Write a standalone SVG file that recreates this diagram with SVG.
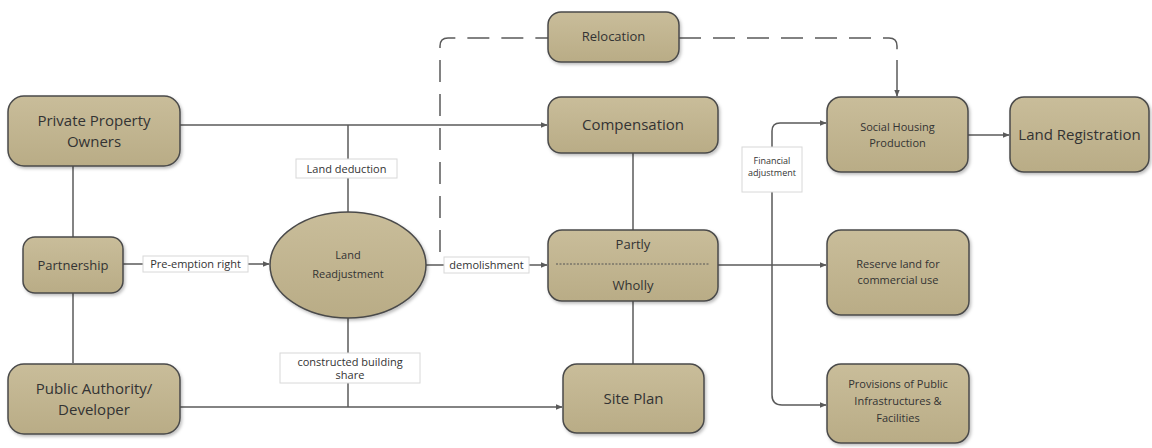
<svg xmlns="http://www.w3.org/2000/svg" width="1152" height="448" viewBox="0 0 1152 448">
  <defs>
    <linearGradient id="fillGrad" x1="0" y1="0" x2="0" y2="1">
      <stop offset="0" stop-color="#c9bd9a"/>
      <stop offset="1" stop-color="#b9ac86"/>
    </linearGradient>
    <marker id="arrow" viewBox="0 0 10 10" refX="9" refY="5" markerWidth="7" markerHeight="7" orient="auto" markerUnits="userSpaceOnUse">
      <path d="M0,1 L10,5 L0,9 Z" fill="#5a5a5a"/>
    </marker>
    <filter id="shadow" x="-10%" y="-10%" width="125%" height="130%">
      <feDropShadow dx="1.5" dy="2" stdDeviation="1.5" flood-color="#000" flood-opacity="0.25"/>
    </filter>
  </defs>
  <style>
    .node { fill: url(#fillGrad); stroke: #4a4a4a; stroke-width: 1.5; filter: url(#shadow); }
    .t { font-family: "Open Sans", "Liberation Sans", sans-serif; fill: #333; text-anchor: middle; }
    .big { font-size: 15px; }
    .mid { font-size: 13px; }
    .small { font-size: 11px; }
    .tiny { font-size: 9px; }
    .line { fill: none; stroke: #5a5a5a; stroke-width: 1.5; }
    .dash { fill: none; stroke: #5a5a5a; stroke-width: 1.5; stroke-dasharray: 22 12; }
    .lbl { fill: #fff; stroke: #d8d8d8; stroke-width: 1; }
  </style>
  <rect width="1152" height="448" fill="#fff"/>

  <!-- connectors -->
  <g id="connectors">
    <!-- owners / partnership / authority spine -->
    <path class="line" d="M73,166 V237"/>
    <path class="line" d="M73,293 V363"/>
    <!-- owners to compensation -->
    <path class="line" d="M180,125 H547" marker-end="url(#arrow)"/>
    <!-- land deduction -->
    <path class="line" d="M348,125 V212"/>
    <rect class="lbl" x="296" y="159" width="101" height="19"/>
    <text class="t small" x="346.5" y="173">Land deduction</text>
    <!-- pre-emption right -->
    <path class="line" d="M123,264 H269" marker-end="url(#arrow)"/>
    <rect class="lbl" x="143" y="256" width="105" height="16"/>
    <text class="t small" x="195.5" y="268">Pre-emption right</text>
    <!-- demolishment -->
    <path class="line" d="M426,265 H547" marker-end="url(#arrow)"/>
    <rect class="lbl" x="444" y="257" width="85" height="16"/>
    <text class="t small" x="486.5" y="269">demolishment</text>
    <!-- constructed building share -->
    <path class="line" d="M348,318 V407"/>
    <rect class="lbl" x="280" y="353" width="140" height="30"/>
    <text class="t small" x="350" y="366">constructed building</text>
    <text class="t small" x="350" y="379">share</text>
    <!-- authority to site plan -->
    <path class="line" d="M180,407 H562" marker-end="url(#arrow)"/>
    <!-- relocation dashed route -->
    <path class="dash" d="M440,252 V46 Q440,38 448,38 H548"/>
    <path class="dash" d="M679,38 H889 Q897,38 897,46 V60"/>
    <path class="line" d="M897,60 V96" marker-end="url(#arrow)"/>
    <!-- compensation / partly-wholly / site plan -->
    <path class="line" d="M633,153 V230"/>
    <path class="line" d="M633,301 V364"/>
    <!-- to reserve land -->
    <path class="line" d="M718,265 H826" marker-end="url(#arrow)"/>
    <!-- financial adjustment split -->
    <path class="line" d="M772,395 V131 Q772,123 780,123 H826" marker-end="url(#arrow)"/>
    <path class="line" d="M772,395 Q772,405 782,405 H826" marker-end="url(#arrow)"/>
    <rect class="lbl" x="742" y="147" width="60" height="45"/>
    <text class="t tiny" x="772" y="164">Financial</text>
    <text class="t tiny" x="772" y="176">adjustment</text>
    <!-- social housing to land registration -->
    <path class="line" d="M968,135 H1009" marker-end="url(#arrow)"/>
  </g>

  <g id="private-owners">
    <rect class="node" x="8" y="96" width="172" height="70" rx="16"/>
    <text class="t big" x="94" y="126">Private Property</text>
    <text class="t big" x="94" y="147">Owners</text>
  </g>
  <g id="partnership">
    <rect class="node" x="23" y="237" width="100" height="56" rx="12"/>
    <text class="t mid" x="73" y="270">Partnership</text>
  </g>
  <g id="public-authority">
    <rect class="node" x="8" y="364" width="172" height="70" rx="16"/>
    <text class="t big" x="94" y="394">Public Authority/</text>
    <text class="t big" x="94" y="415">Developer</text>
  </g>
  <g id="land-readjustment">
    <ellipse class="node" cx="348" cy="265" rx="78" ry="53"/>
    <text class="t small" x="348" y="259">Land</text>
    <text class="t small" x="348" y="278">Readjustment</text>
  </g>
  <g id="relocation">
    <rect class="node" x="548" y="12" width="131" height="50" rx="13"/>
    <text class="t mid" x="613.5" y="41">Relocation</text>
  </g>
  <g id="compensation">
    <rect class="node" x="548" y="97" width="170" height="56" rx="13"/>
    <text class="t big" x="633" y="130">Compensation</text>
  </g>
  <g id="partly-wholly">
    <rect class="node" x="548" y="230" width="170" height="71" rx="14"/>
    <path d="M556,264 H710" fill="none" stroke="#555" stroke-width="1" stroke-dasharray="2 1.5"/>
    <text class="t mid" x="633" y="249">Partly</text>
    <text class="t mid" x="633" y="290">Wholly</text>
  </g>
  <g id="site-plan">
    <rect class="node" x="563" y="364" width="141" height="69" rx="14"/>
    <text class="t big" x="633.5" y="404">Site Plan</text>
  </g>
  <g id="social-housing">
    <rect class="node" x="827" y="97" width="141" height="75" rx="14"/>
    <text class="t small" x="897.5" y="131">Social Housing</text>
    <text class="t small" x="897.5" y="147">Production</text>
  </g>
  <g id="land-registration">
    <rect class="node" x="1010" y="97" width="139" height="75" rx="14"/>
    <text class="t big" x="1079.5" y="140">Land Registration</text>
  </g>
  <g id="reserve-land">
    <rect class="node" x="827" y="230" width="142" height="85" rx="14"/>
    <text class="t small" x="898" y="268">Reserve land for</text>
    <text class="t small" x="898" y="284">commercial use</text>
  </g>
  <g id="public-provisions">
    <rect class="node" x="827" y="364" width="142" height="79" rx="14"/>
    <text class="t small" x="898" y="388">Provisions of Public</text>
    <text class="t small" x="898" y="405">Infrastructures &amp;</text>
    <text class="t small" x="898" y="422">Facilities</text>
  </g>
</svg>
